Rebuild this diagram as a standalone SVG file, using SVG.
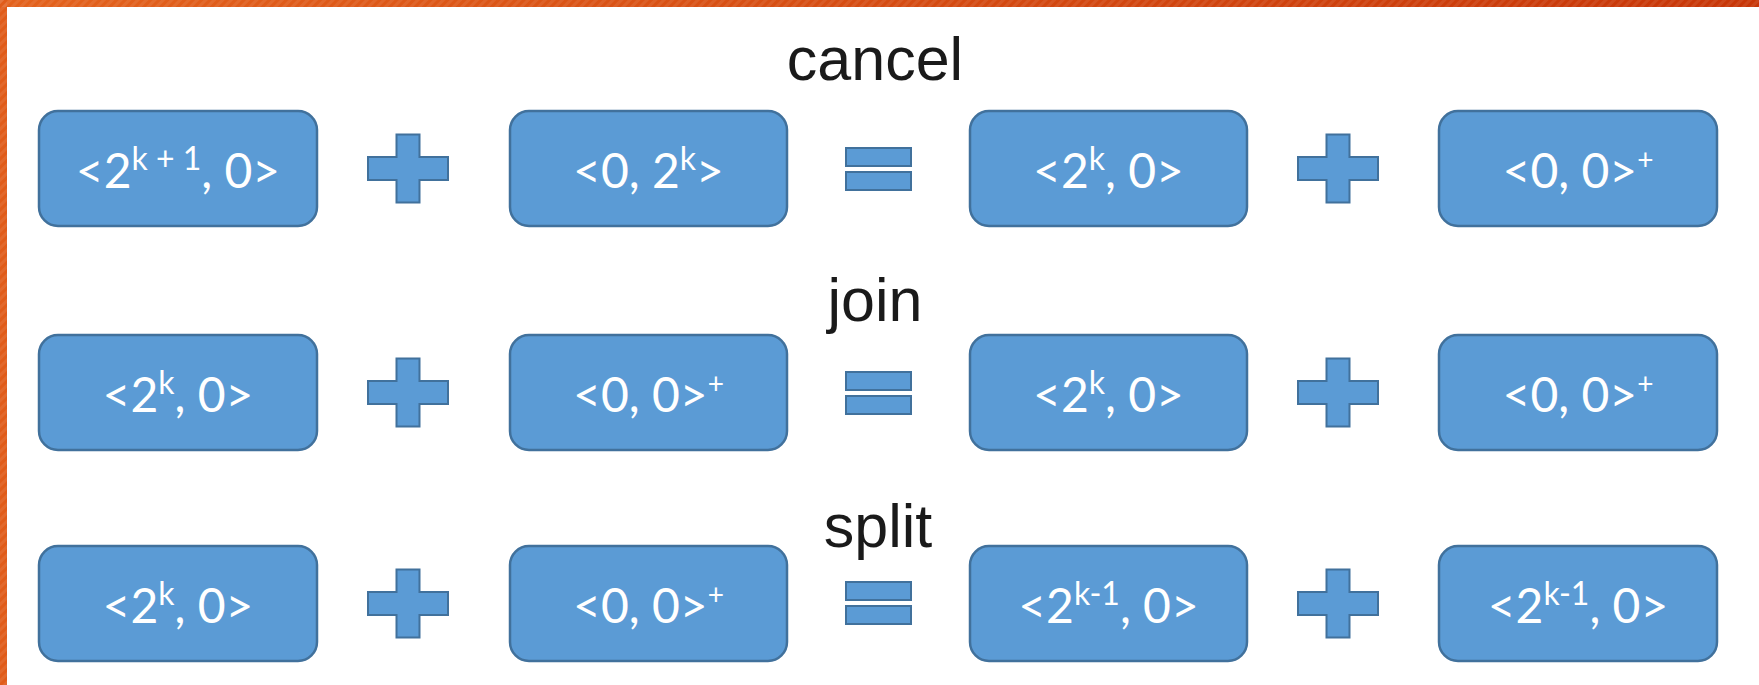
<svg xmlns="http://www.w3.org/2000/svg" xmlns:xlink="http://www.w3.org/1999/xlink" width="1759" height="685" viewBox="0 0 1759 685">
  <style>
    .box { fill: #5b9bd5; stroke: #41719c; stroke-width: 2.5; }
    .op { fill: #5b9bd5; stroke: #41719c; stroke-width: 2; }
    .val { font-family: "Lato", "Open Sans", sans-serif; font-size: 48px; fill: #ffffff; text-anchor: middle; }
    .sup { font-size: 32px; }
    .supp { font-size: 28px; }
    .title { font-family: "Liberation Sans", Arial, sans-serif; font-size: 61px; fill: #1a1a1a; text-anchor: middle; }
  </style>
  <defs>
    <linearGradient id="barGrad" x1="0" y1="0" x2="1" y2="0">
      <stop offset="0" stop-color="#e3621d"/>
      <stop offset="1" stop-color="#c73608"/>
    </linearGradient>
    <pattern id="hatch" width="6" height="6" patternUnits="userSpaceOnUse" patternTransform="rotate(45)">
      <rect width="3" height="6" fill="#ffffff" opacity="0.08"/>
    </pattern>
    <!-- plus sign centred on the origin -->
    <path id="plus" d="M -11.5 -34 H 11.5 V -11.5 H 40 V 11.5 H 11.5 V 34 H -11.5 V 11.5 H -40 V -11.5 H -11.5 Z"/>
    <!-- equals sign centred on the origin -->
    <path id="equals" d="M -32.5 -21 H 32.5 V -3 H -32.5 Z M -32.5 3 H 32.5 V 21 H -32.5 Z"/>
  </defs>

  <rect width="1759" height="685" fill="#ffffff"/>

  <!-- frame bars -->
  <g id="frame">
    <rect x="0" y="0" width="1759" height="7" fill="url(#barGrad)"/>
    <rect x="0" y="0" width="7" height="685" fill="#e05c1a"/>
    <rect x="0" y="0" width="1759" height="7" fill="url(#hatch)"/>
    <rect x="0" y="0" width="7" height="685" fill="url(#hatch)"/>
  </g>

  <!-- rule titles -->
  <text id="label-cancel" class="title" x="875" y="80">cancel</text>
  <text id="label-join" class="title" x="875" y="321">join</text>
  <text id="label-split" class="title" x="878" y="547">split</text>

  <!-- operators -->
  <g id="connectors">
    <use xlink:href="#plus" class="op" x="408" y="168.5"/>
    <use xlink:href="#equals" class="op" x="878.5" y="169"/>
    <use xlink:href="#plus" class="op" x="1338" y="168.5"/>
    <use xlink:href="#plus" class="op" x="408" y="392.5"/>
    <use xlink:href="#equals" class="op" x="878.5" y="393"/>
    <use xlink:href="#plus" class="op" x="1338" y="392.5"/>
    <use xlink:href="#plus" class="op" x="408" y="603.5"/>
    <use xlink:href="#equals" class="op" x="878.5" y="603"/>
    <use xlink:href="#plus" class="op" x="1338" y="603.5"/>
  </g>

  <!-- cancel row -->
  <g id="cancel-a">
    <rect class="box" x="39" y="111" width="278" height="115" rx="19"/>
    <text class="val" x="178" y="188">&lt;2<tspan class="sup" dy="-18">k + 1</tspan><tspan dy="18">, 0&gt;</tspan></text>
  </g>
  <g id="cancel-b">
    <rect class="box" x="510" y="111" width="277" height="115" rx="19"/>
    <text class="val" x="648.5" y="188">&lt;0, 2<tspan class="sup" dy="-18">k</tspan><tspan dy="18">&gt;</tspan></text>
  </g>
  <g id="cancel-c">
    <rect class="box" x="970" y="111" width="277" height="115" rx="19"/>
    <text class="val" x="1108.5" y="188">&lt;2<tspan class="sup" dy="-18">k</tspan><tspan dy="18">, 0&gt;</tspan></text>
  </g>
  <g id="cancel-d">
    <rect class="box" x="1439" y="111" width="278" height="115" rx="19"/>
    <text class="val" x="1578" y="188">&lt;0, 0&gt;<tspan class="supp" dy="-18">+</tspan></text>
  </g>

  <!-- join row -->
  <g id="join-a">
    <rect class="box" x="39" y="335" width="278" height="115" rx="19"/>
    <text class="val" x="178" y="412">&lt;2<tspan class="sup" dy="-18">k</tspan><tspan dy="18">, 0&gt;</tspan></text>
  </g>
  <g id="join-b">
    <rect class="box" x="510" y="335" width="277" height="115" rx="19"/>
    <text class="val" x="648.5" y="412">&lt;0, 0&gt;<tspan class="supp" dy="-18">+</tspan></text>
  </g>
  <g id="join-c">
    <rect class="box" x="970" y="335" width="277" height="115" rx="19"/>
    <text class="val" x="1108.5" y="412">&lt;2<tspan class="sup" dy="-18">k</tspan><tspan dy="18">, 0&gt;</tspan></text>
  </g>
  <g id="join-d">
    <rect class="box" x="1439" y="335" width="278" height="115" rx="19"/>
    <text class="val" x="1578" y="412">&lt;0, 0&gt;<tspan class="supp" dy="-18">+</tspan></text>
  </g>

  <!-- split row -->
  <g id="split-a">
    <rect class="box" x="39" y="546" width="278" height="115" rx="19"/>
    <text class="val" x="178" y="623">&lt;2<tspan class="sup" dy="-18">k</tspan><tspan dy="18">, 0&gt;</tspan></text>
  </g>
  <g id="split-b">
    <rect class="box" x="510" y="546" width="277" height="115" rx="19"/>
    <text class="val" x="648.5" y="623">&lt;0, 0&gt;<tspan class="supp" dy="-18">+</tspan></text>
  </g>
  <g id="split-c">
    <rect class="box" x="970" y="546" width="277" height="115" rx="19"/>
    <text class="val" x="1108.5" y="623">&lt;2<tspan class="sup" dy="-18">k-1</tspan><tspan dy="18">, 0&gt;</tspan></text>
  </g>
  <g id="split-d">
    <rect class="box" x="1439" y="546" width="278" height="115" rx="19"/>
    <text class="val" x="1578" y="623">&lt;2<tspan class="sup" dy="-18">k-1</tspan><tspan dy="18">, 0&gt;</tspan></text>
  </g>
</svg>
